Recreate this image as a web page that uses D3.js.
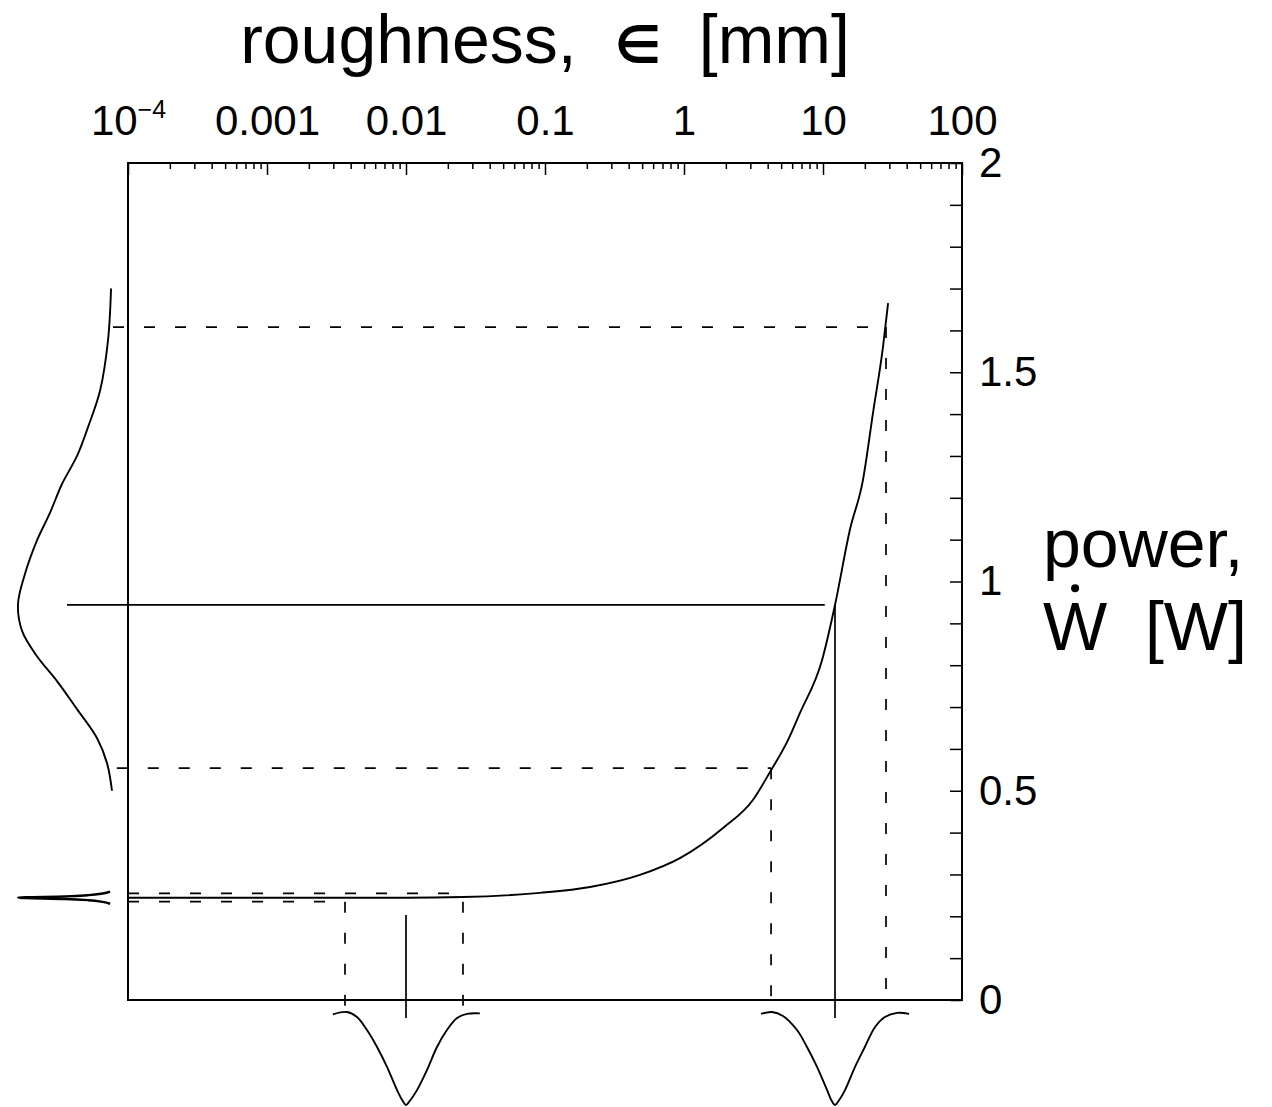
<!DOCTYPE html>
<html>
<head>
<meta charset="utf-8">
<script src="https://cdn.jsdelivr.net/npm/d3@7"></script>
<style>
  body { margin: 0; background: #fff; }
  text { font-family: "Liberation Sans", Arial, sans-serif; fill: #000; }
</style>
</head>
<body>
<script>
// Page size
const width = 1272, height = 1107;

// Axis ticks
const topTickValues = [1e-4, 1e-3, 1e-2, 1e-1, 1, 10, 100];
const topTickLabels = ["10^\u22124", "0.001", "0.01", "0.1", "1", "10", "100"];
const rightTickValues = [0, 0.5, 1, 1.5, 2];
const rightTickLabels = ["0", "0.5", "1", "1.5", "2"];

// Power vs roughness curve
const curveEps   = [1e-4, 0.001, 0.01, 0.0257, 0.092, 0.211, 0.482, 0.935, 1.91, 3.13, 4.16, 5.60, 6.83, 9.84, 12.2, 15.6, 19.4, 22.9, 27.0, 29.4];
const curvePower = [0.2445, 0.2445, 0.2445, 0.246, 0.256, 0.270, 0.299, 0.339, 0.411, 0.478, 0.545, 0.621, 0.686, 0.812, 0.944, 1.123, 1.243, 1.403, 1.560, 1.665];

// Input distributions of roughness (drawn below the axis, peak = 1)
const narrowInEps     = [0.00298, 0.00376, 0.00444, 0.00524, 0.00619, 0.00730, 0.00862, 0.0095, 0.0100, 0.0106, 0.0120, 0.0142, 0.0167, 0.0197, 0.0233, 0.0275, 0.0340];
const narrowInDensity = [0.025, 0.0, 0.054, 0.194, 0.376, 0.59, 0.84, 0.96, 1.0, 0.96, 0.84, 0.62, 0.376, 0.194, 0.065, 0.02, 0.015];
const wideInEps       = [3.58, 4.30, 5.15, 6.50, 7.67, 9.06, 10.7, 11.6, 12.2, 12.9, 14.4, 17.0, 20.0, 23.7, 27.9, 34.1, 41.6];
const wideInDensity   = [0.02, 0.0, 0.043, 0.194, 0.376, 0.59, 0.84, 0.96, 1.0, 0.96, 0.84, 0.59, 0.376, 0.161, 0.054, 0.01, 0.02];

// Output distributions of power (drawn left of the box, peak = 1)
const narrowOutPower   = [0.230, 0.2345, 0.2385, 0.2415, 0.2445, 0.2475, 0.2505, 0.2545, 0.259];
const narrowOutDensity = [0.02, 0.1, 0.25, 0.5, 1.0, 0.5, 0.25, 0.1, 0.02];
const wideOutPower   = [1.70, 1.575, 1.455, 1.369, 1.300, 1.233, 1.164, 1.097, 1.018, 0.946, 0.882, 0.822, 0.762, 0.695, 0.626, 0.566, 0.50];
const wideOutDensity = [0.01, 0.043, 0.128, 0.255, 0.372, 0.532, 0.66, 0.80, 0.926, 1.0, 0.957, 0.80, 0.585, 0.372, 0.16, 0.053, 0.0];

// Quantile guides: [low, median, high]
const narrowEps   = [0.00364, 0.01, 0.0257];
const narrowPower = [0.235, 0.2445, 0.255];
const wideEps     = [4.23, 12.2, 28.4];
const widePower   = [0.554, 0.944, 1.608];

const svg = d3.select("body").append("svg")
    .attr("width", width)
    .attr("height", height);

// Scales
const x = d3.scaleLog().domain([1e-4, 100]).range([128, 962]);
const y = d3.scaleLinear().domain([0, 2]).range([1000, 163]);
const dLeft = d3.scaleLinear().domain([0, 1]).range([112, 18]);
const dBottom = d3.scaleLinear().domain([0, 1]).range([1012, 1105]);

// Top axis: minor ticks
const minor = x.ticks().filter(v => !topTickValues.some(t => Math.abs(t - v) / t < 1e-9));
svg.append("g")
    .attr("transform", `translate(0,${y(2)})`)
    .call(d3.axisTop(x).tickValues(minor).tickSizeInner(-6).tickSizeOuter(0).tickFormat(""))
    .call(g => g.select(".domain").remove())
    .selectAll("line").attr("stroke-width", 1.5);

// Top axis: major ticks with labels
const topAxis = svg.append("g")
    .attr("transform", `translate(0,${y(2)})`)
    .call(d3.axisTop(x).tickValues(topTickValues).tickSizeInner(-12).tickSizeOuter(0).tickPadding(28)
        .tickFormat((d, i) => topTickLabels[i]))
    .call(g => g.select(".domain").remove());
topAxis.selectAll("line").attr("stroke-width", 1.5);
topAxis.selectAll("text")
    .attr("font-size", 42)
    .attr("font-family", "Liberation Sans, Arial, sans-serif")
    .each(function (d, i) {
        const lab = topTickLabels[i];
        if (lab.includes("^")) {
            const [base, sup] = lab.split("^");
            const t = d3.select(this).text(null);
            t.append("tspan").text(base);
            t.append("tspan").attr("font-size", 25).attr("dy", -17).text(sup);
        }
    });

// Right axis: ticks every 0.1, labels every 0.5
svg.append("g")
    .attr("transform", `translate(${x(100)},0)`)
    .call(d3.axisRight(y).tickValues(d3.range(0, 21).map(i => i / 10)).tickSizeInner(-12).tickSizeOuter(0).tickFormat(""))
    .call(g => g.select(".domain").remove())
    .selectAll("line").attr("stroke-width", 1.5);

const rightAxis = svg.append("g")
    .attr("transform", `translate(${x(100)},0)`)
    .call(d3.axisRight(y).tickValues(rightTickValues).tickSize(0).tickPadding(17)
        .tickFormat((d, i) => rightTickLabels[i]))
    .call(g => g.select(".domain").remove());
rightAxis.selectAll("text")
    .attr("font-size", 42)
    .attr("font-family", "Liberation Sans, Arial, sans-serif");

// Plot frame
svg.append("rect")
    .attr("x", x(1e-4)).attr("y", y(2))
    .attr("width", x(100) - x(1e-4))
    .attr("height", y(0) - y(2))
    .attr("fill", "none").attr("stroke", "#000").attr("stroke-width", 2);

// Guide line helpers
function hLine(p, e0, e1, dashed) {
    svg.append("line")
        .attr("x1", x(e0)).attr("x2", x(e1))
        .attr("y1", y(p)).attr("y2", y(p))
        .attr("stroke", "#000").attr("stroke-width", 1.7)
        .attr("stroke-dasharray", dashed ? "11,20" : null);
}
function vLine(e, p0, p1, dashed) {
    svg.append("line")
        .attr("x1", x(e)).attr("x2", x(e))
        .attr("y1", y(p0)).attr("y2", y(p1))
        .attr("stroke", "#000").attr("stroke-width", 1.7)
        .attr("stroke-dasharray", dashed ? "11,20" : null);
}

// Narrow input case
hLine(narrowPower[0], 1e-4, narrowEps[0], true);
hLine(narrowPower[2], 1e-4, narrowEps[2], true);
vLine(narrowEps[0], narrowPower[0], -0.015, true);
vLine(narrowEps[2], narrowPower[0], -0.015, true);
vLine(narrowEps[1], 0.203, -0.043, false);

// Wide input case
hLine(widePower[2], 7.8e-5, wideEps[2], true);
hLine(widePower[0], 8.3e-5, wideEps[0], true);
hLine(widePower[1], 3.64e-5, 10.3, false);
vLine(wideEps[0], widePower[0], -0.017, true);
vLine(wideEps[2], widePower[2], -0.017, true);
vLine(wideEps[1], widePower[1], -0.043, false);

// Main curve
const curveLine = d3.line()
    .x(d => x(d[0])).y(d => y(d[1]))
    .curve(d3.curveMonotoneX);
svg.append("path")
    .datum(curveEps.map((e, i) => [e, curvePower[i]]))
    .attr("d", curveLine)
    .attr("fill", "none").attr("stroke", "#000").attr("stroke-width", 1.9);

// Input densities below the axis
const bottomLine = d3.line()
    .x(d => x(d[0])).y(d => dBottom(d[1]))
    .curve(d3.curveCatmullRom.alpha(0.5));
[[narrowInEps, narrowInDensity], [wideInEps, wideInDensity]].forEach(([es, ds]) => {
    svg.append("path")
        .datum(es.map((e, i) => [e, ds[i]]))
        .attr("d", bottomLine)
        .attr("fill", "none").attr("stroke", "#000").attr("stroke-width", 1.9);
});

// Output densities left of the box
const leftWide = d3.line()
    .x(d => dLeft(d[1])).y(d => y(d[0]))
    .curve(d3.curveCatmullRom.alpha(0.5));
svg.append("path")
    .datum(wideOutPower.map((p, i) => [p, wideOutDensity[i]]))
    .attr("d", leftWide)
    .attr("fill", "none").attr("stroke", "#000").attr("stroke-width", 1.9);

const leftNarrow = d3.line()
    .x(d => dLeft(d[1])).y(d => y(d[0]))
    .curve(d3.curveMonotoneY);
svg.append("path")
    .datum(narrowOutPower.map((p, i) => [p, narrowOutDensity[i]]))
    .attr("d", leftNarrow)
    .attr("fill", "none").attr("stroke", "#000").attr("stroke-width", 2.4);

// Axis titles
const title = svg.append("text")
    .attr("x", (x(1e-4) + x(100)) / 2)
    .attr("y", 63)
    .attr("text-anchor", "middle")
    .attr("font-size", 68)
    .style("white-space", "pre");
title.append("tspan").text("roughness,  ");
title.append("tspan").attr("font-size", 52).attr("font-family", "DejaVu Sans").attr("font-weight", "bold").text("\u2208");
title.append("tspan").text("  [mm]");

svg.append("text")
    .attr("x", 1043).attr("y", 567)
    .attr("font-size", 68)
    .text("power,");

const wTitle = svg.append("text")
    .attr("x", 1043).attr("y", 650)
    .attr("font-size", 68)
    .style("white-space", "pre")
    .text("W  [W]");
const wWidth = wTitle.node().getSubStringLength(0, 1);
svg.append("circle")
    .attr("cx", 1043 + wWidth / 2)
    .attr("cy", 650 - 0.716 * 68 - 13)
    .attr("r", 4)
    .attr("fill", "#000");
</script>
</body>
</html>
